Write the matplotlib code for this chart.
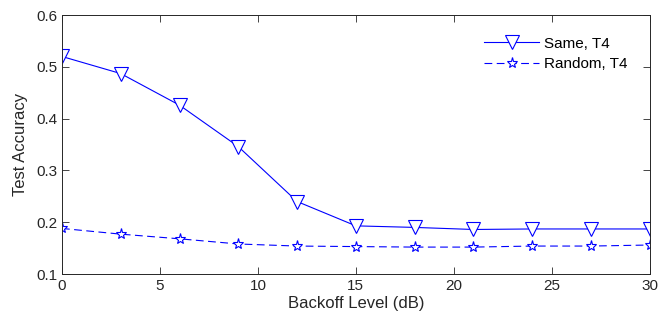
import numpy as np
import matplotlib.pyplot as plt

plt.rcParams['font.family'] = ['Liberation Sans', 'DejaVu Sans']

# Backoff level and test accuracy
backoff = [0, 3, 6, 9, 12, 15, 18, 21, 24, 27, 30]
acc_same = [0.520, 0.487, 0.426, 0.346, 0.240, 0.193, 0.190, 0.186, 0.187, 0.187, 0.187]
acc_random = [0.188, 0.177, 0.168, 0.158, 0.154, 0.153, 0.152, 0.152, 0.154, 0.154, 0.156]

fig = plt.figure(figsize=(6.59, 3.27), dpi=100)
ax = fig.add_axes([0.094, 0.162, 0.892, 0.792])

ax.plot(backoff, acc_same, '-', color='blue', lw=0.8, marker='v',
        markersize=9.5, markerfacecolor='white', markeredgewidth=0.8, label='Same, T4')
ax.plot(backoff, acc_random, '--', color='blue', lw=0.8, marker='*', dashes=(7, 4),
        markersize=8, markerfacecolor='white', markeredgewidth=0.8, label='Random, T4')

ax.set_xlim(0, 30)
ax.set_ylim(0.1, 0.6)
ax.set_xticks(np.arange(0, 31, 5))
ax.set_yticks(np.arange(0.1, 0.61, 0.1))
ax.set_yticklabels(['0.1', '0.2', '0.3', '0.4', '0.5', '0.6'])
ax.tick_params(direction='in', top=True, right=True, length=5, width=0.6,
               labelsize=11, colors='#262626')
for s in ax.spines.values():
    s.set_linewidth(0.7)
    s.set_color('#262626')

ax.set_xlabel('Backoff Level (dB)', fontsize=12, color='#262626', labelpad=2)
ax.set_ylabel('Test Accuracy', fontsize=12, color='#262626', labelpad=6)

ax.legend(loc='upper right', bbox_to_anchor=(0.985, 0.97), frameon=False,
          fontsize=11, handlelength=3.6, handletextpad=0.3, labelspacing=0.45)

fig.savefig('out.png', dpi=100)
